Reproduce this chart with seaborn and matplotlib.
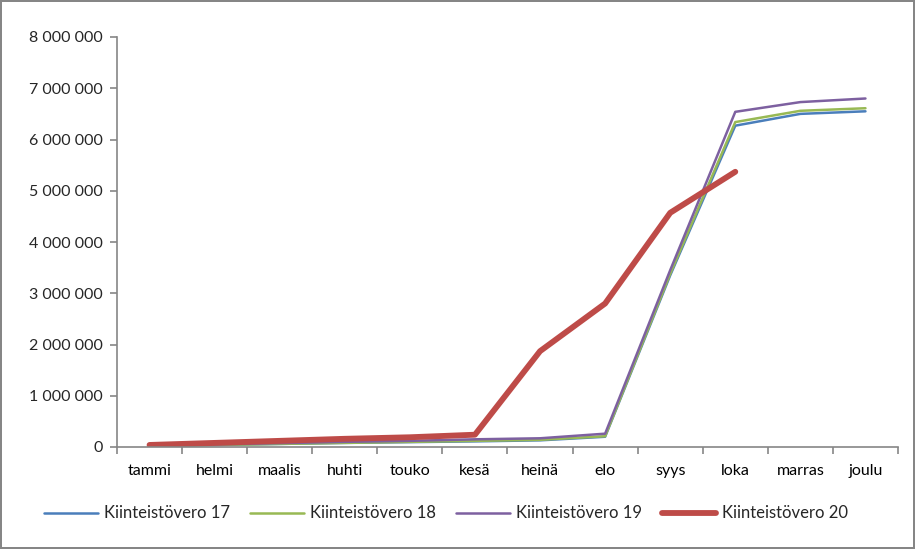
import matplotlib
matplotlib.use("Agg")
import matplotlib.pyplot as plt
import seaborn as sns
import pandas as pd
from matplotlib.ticker import FuncFormatter, FixedLocator

months = ["tammi", "helmi", "maalis", "huhti", "touko", "kesä", "heinä", "elo", "syys", "loka", "marras", "joulu"]
v17 = [20000, 40000, 60000, 80000, 95000, 110000, 130000, 200000, 3350000, 6270000, 6500000, 6550000]
v18 = [20000, 40000, 60000, 80000, 100000, 120000, 140000, 210000, 3380000, 6340000, 6560000, 6610000]
v19 = [25000, 50000, 75000, 100000, 120000, 150000, 170000, 260000, 3450000, 6540000, 6730000, 6800000]
v20 = [40000, 80000, 120000, 160000, 190000, 240000, 1870000, 2800000, 4570000, 5370000]
series_names = ["Kiinteistövero 17", "Kiinteistövero 18", "Kiinteistövero 19", "Kiinteistövero 20"]
colors = ["#4a7ebb", "#98b954", "#7d60a0", "#be4b48"]
widths = [1.8, 1.8, 1.8, 4.2]

sns.set_style("white")
plt.rcParams['font.family'] = ['Lato', 'DejaVu Sans']

fig = plt.figure(figsize=(9.15, 5.49), dpi=100)
ax = fig.add_axes([117/915, 1 - 447/549, (898-117)/915, (447-37)/549])

for name, vals, c, w in zip(series_names, [v17, v18, v19, v20], colors, widths):
    df = pd.DataFrame({"x": list(range(len(vals))), "y": vals})
    sns.lineplot(data=df, x="x", y="y", ax=ax, color=c, linewidth=w, label=name,
                 solid_capstyle="round", solid_joinstyle="round")

ax.set_xlim(-0.5, 11.5)
ax.set_ylim(0, 8000000)
ax.set_yticks(range(0, 8000001, 1000000))
ax.yaxis.set_major_formatter(FuncFormatter(lambda v, p: f"{int(v):,}".replace(",", " ")))
ax.set_xticks(range(12))
ax.set_xticklabels(months)
ax.xaxis.set_minor_locator(FixedLocator([i - 0.5 for i in range(13)]))
ax.tick_params(axis="x", which="major", length=0, pad=12, labelsize=11.5, colors="black")
ax.tick_params(axis="x", which="minor", length=5, width=1.2, color="#868686", bottom=True)
ax.tick_params(axis="y", which="major", length=5, width=1.2, color="#868686", left=True, labelsize=11.5, pad=5)
ax.set_xlabel("")
ax.set_ylabel("")
for s in ["top", "right"]:
    ax.spines[s].set_visible(False)
for s in ["left", "bottom"]:
    ax.spines[s].set_color("#868686")
    ax.spines[s].set_linewidth(1.2)

leg = ax.legend(loc="center left", bbox_to_anchor=(-0.093, -0.162), ncol=4, frameon=False,
                fontsize=12, handlelength=3.2, handletextpad=0.4, columnspacing=1.2,
                borderaxespad=0, borderpad=0)

fig.patch.set_edgecolor("#868686")
fig.patch.set_linewidth(1.5)
fig.savefig("out.png", dpi=100, edgecolor=fig.get_edgecolor())
